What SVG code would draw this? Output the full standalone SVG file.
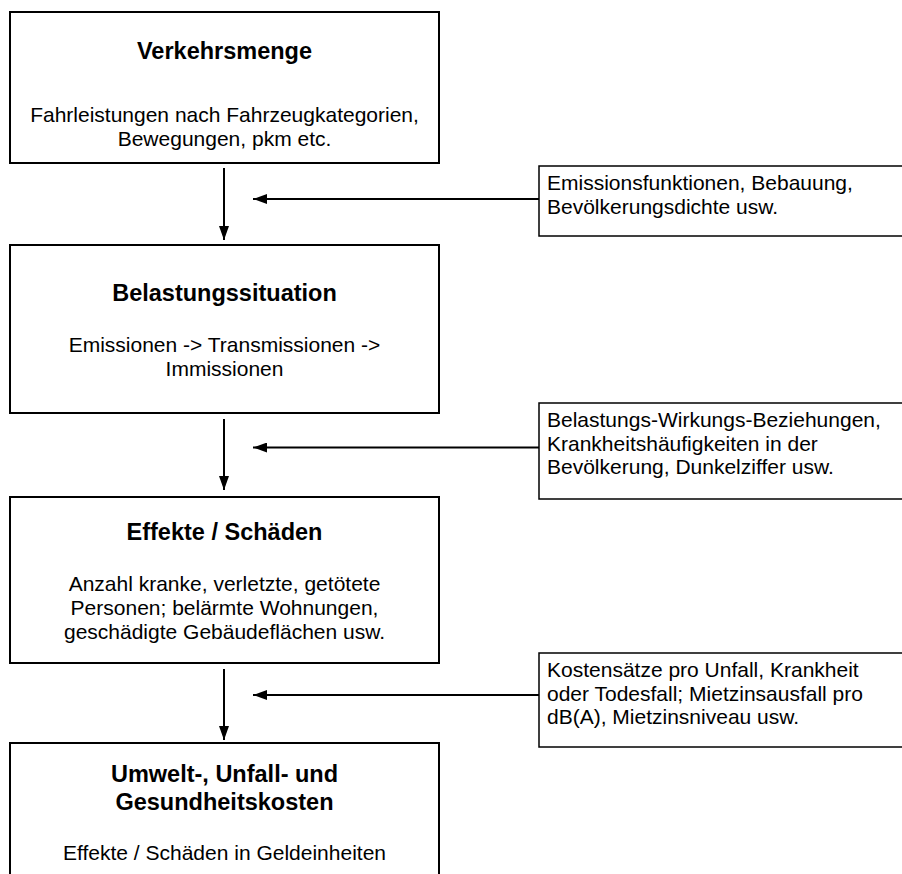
<svg xmlns="http://www.w3.org/2000/svg" width="902" height="874" viewBox="0 0 902 874">
<defs>
<style>
.main{fill:#fff;stroke:#000;stroke-width:2}
.side{fill:#fff;stroke:#000;stroke-width:1.5}
.t{font-family:"Liberation Sans",Arial,sans-serif;font-size:23.5px;font-weight:bold;text-anchor:middle;fill:#000}
.b{font-family:"Liberation Sans",Arial,sans-serif;font-size:21px;text-anchor:middle;fill:#000}
.s{font-family:"Liberation Sans",Arial,sans-serif;font-size:21px;fill:#000}
.c{stroke:#000;stroke-width:2;fill:none}
</style>
<marker id="ah" viewBox="0 0 14 10" refX="14" refY="5" markerWidth="14" markerHeight="10" markerUnits="userSpaceOnUse" orient="auto">
<path d="M0,0 L14,5 L0,10 Z" fill="#000"/>
</marker>
</defs>
<rect width="902" height="874" fill="#fff"/>
<g id="n1">
<rect class="main" x="10" y="12" width="429" height="151"/>
<text class="t" x="224.5" y="59">Verkehrsmenge</text>
<text class="b" x="224.5" y="122">Fahrleistungen nach Fahrzeugkategorien,</text>
<text class="b" x="224.5" y="146">Bewegungen, pkm etc.</text>
</g>
<g id="n2">
<rect class="main" x="10" y="245" width="429" height="168"/>
<text class="t" x="224.5" y="300.5">Belastungssituation</text>
<text class="b" x="224.5" y="352">Emissionen -&gt; Transmissionen -&gt;</text>
<text class="b" x="224.5" y="376">Immissionen</text>
</g>
<g id="n3">
<rect class="main" x="10" y="497" width="429" height="166"/>
<text class="t" x="224.5" y="539.5">Effekte / Schäden</text>
<text class="b" x="224.5" y="591">Anzahl kranke, verletzte, getötete</text>
<text class="b" x="224.5" y="615">Personen; belärmte Wohnungen,</text>
<text class="b" x="224.5" y="639">geschädigte Gebäudeflächen usw.</text>
</g>
<g id="n4">
<rect class="main" x="10" y="743" width="429" height="150"/>
<text class="t" x="224.5" y="781.5">Umwelt-, Unfall- und</text>
<text class="t" x="224.5" y="810">Gesundheitskosten</text>
<text class="b" x="224.5" y="860">Effekte / Schäden in Geldeinheiten</text>
</g>
<g id="s1">
<rect class="side" x="539" y="166" width="370" height="70"/>
<text class="s" x="547" y="190">Emissionsfunktionen, Bebauung,</text>
<text class="s" x="547" y="214">Bevölkerungsdichte usw.</text>
</g>
<g id="s2">
<rect class="side" x="539" y="403" width="370" height="96"/>
<text class="s" x="547" y="427">Belastungs-Wirkungs-Beziehungen,</text>
<text class="s" x="547" y="450.5">Krankheitshäufigkeiten in der</text>
<text class="s" x="547" y="474">Bevölkerung, Dunkelziffer usw.</text>
</g>
<g id="s3">
<rect class="side" x="539" y="653" width="370" height="94"/>
<text class="s" x="547" y="677">Kostensätze pro Unfall, Krankheit</text>
<text class="s" x="547" y="700.5">oder Todesfall; Mietzinsausfall pro</text>
<text class="s" x="547" y="724">dB(A), Mietzinsniveau usw.</text>
</g>
<g id="connectors">
<line class="c" x1="224" y1="168" x2="224" y2="240" marker-end="url(#ah)"/>
<line class="c" x1="539" y1="199" x2="253" y2="199" marker-end="url(#ah)"/>
<line class="c" x1="224" y1="419" x2="224" y2="490" marker-end="url(#ah)"/>
<line class="c" x1="539" y1="447.5" x2="253" y2="447.5" marker-end="url(#ah)"/>
<line class="c" x1="224" y1="669" x2="224" y2="740" marker-end="url(#ah)"/>
<line class="c" x1="539" y1="695" x2="253" y2="695" marker-end="url(#ah)"/>
</g>
</svg>
